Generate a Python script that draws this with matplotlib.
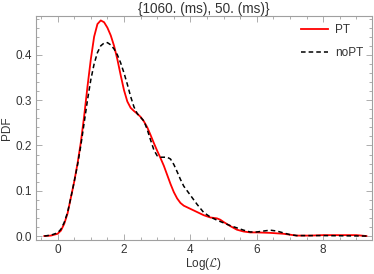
import numpy as np
import matplotlib.pyplot as plt
from matplotlib.ticker import MultipleLocator

# PT curve
pt_x = [-0.4, -0.2, 0.0, 0.1, 0.2, 0.3, 0.4, 0.5, 0.6, 0.7, 0.8, 0.9, 1.0, 1.1, 1.2, 1.3,
        1.4, 1.5, 1.6, 1.7, 1.8, 1.9, 2.0, 2.1, 2.2, 2.3, 2.4, 2.5, 2.6, 2.7, 2.8, 2.9,
        3.0, 3.1, 3.2, 3.3, 3.4, 3.5, 3.6, 3.7, 3.8, 4.0, 4.2, 4.4, 4.6, 4.8, 4.9, 5.0,
        5.2, 5.4, 5.6, 5.8, 6.0, 6.4, 6.8, 7.2, 7.6, 8.0, 8.5, 9.0, 9.3]
pt_y = [0.0, 0.001, 0.005, 0.012, 0.027, 0.05, 0.085, 0.12, 0.16, 0.207, 0.265, 0.33,
        0.39, 0.44, 0.468, 0.476, 0.472, 0.46, 0.443, 0.42, 0.39, 0.355, 0.322, 0.297,
        0.283, 0.276, 0.27, 0.263, 0.253, 0.24, 0.223, 0.205, 0.188, 0.172, 0.155, 0.135,
        0.115, 0.097, 0.083, 0.073, 0.067, 0.06, 0.053, 0.046, 0.041, 0.039, 0.036, 0.031,
        0.022, 0.014, 0.01, 0.008, 0.008, 0.007, 0.005, 0.001, 0.001, 0.002, 0.002, 0.002,
        0.0]

# noPT curve
nopt_x = [-0.4, -0.2, 0.0, 0.1, 0.2, 0.3, 0.4, 0.5, 0.6, 0.7, 0.8, 0.9, 1.0, 1.1, 1.2,
          1.3, 1.4, 1.5, 1.6, 1.7, 1.8, 1.9, 2.0, 2.1, 2.2, 2.3, 2.4, 2.5, 2.6, 2.7, 2.8,
          2.9, 3.0, 3.1, 3.2, 3.3, 3.4, 3.5, 3.6, 3.7, 3.8, 3.9, 4.0, 4.2, 4.4, 4.6, 4.8,
          5.0, 5.2, 5.4, 5.6, 5.8, 6.0, 6.2, 6.4, 6.6, 6.8, 7.0, 7.2, 8.0, 9.3]
nopt_y = [0.0, 0.002, 0.007, 0.015, 0.03, 0.052, 0.085, 0.12, 0.157, 0.2, 0.25, 0.3,
          0.345, 0.38, 0.405, 0.42, 0.426, 0.427, 0.422, 0.413, 0.4, 0.382, 0.36, 0.335,
          0.308, 0.285, 0.27, 0.262, 0.254, 0.235, 0.212, 0.19, 0.177, 0.174, 0.174, 0.174,
          0.17, 0.158, 0.142, 0.125, 0.11, 0.1, 0.09, 0.07, 0.052, 0.042, 0.035, 0.029,
          0.023, 0.018, 0.013, 0.009, 0.009, 0.011, 0.013, 0.011, 0.007, 0.003, 0.001,
          0.001, 0.0]

plt.rcParams['font.family'] = ['Liberation Sans', 'DejaVu Sans']
plt.rcParams['mathtext.fontset'] = 'cm'

fig = plt.figure(figsize=(3.74, 2.74), dpi=100)
ax = fig.add_axes([0.0963, 0.124, 0.8976, 0.818])

ax.plot(pt_x, pt_y, color='#ff0000', lw=1.3, label='PT')
ax.plot(nopt_x, nopt_y, color='black', lw=1.1, ls=(0, (3, 2)), label='noPT')

ax.set_xlim(-0.65, 9.46)
ax.set_ylim(-0.0088, 0.486)
ax.xaxis.set_major_locator(MultipleLocator(2))
ax.xaxis.set_minor_locator(MultipleLocator(0.5))
ax.yaxis.set_major_locator(MultipleLocator(0.1))
ax.yaxis.set_minor_locator(MultipleLocator(0.02))
ax.yaxis.set_major_formatter(plt.FuncFormatter(lambda v, p: '%.1f' % v))

for s in ax.spines.values():
    s.set_color('#a0a0a0')
    s.set_linewidth(0.8)
ax.tick_params(which='both', direction='in', top=True, right=True, color='#a0a0a0',
               labelsize=8.5, labelcolor='#333333', width=0.6)
ax.tick_params(which='major', length=4, pad=3)
ax.tick_params(which='minor', length=2)

ax.set_title('{1060. (ms), 50. (ms)}', fontsize=9.8, color='#333333', pad=2)
ax.set_xlabel(r'Log($\mathcal{L}$)', fontsize=8.5, color='#333333', labelpad=0)
ax.set_ylabel('PDF', fontsize=8.5, color='#333333', labelpad=2)

leg = ax.legend(loc='upper right', frameon=False, fontsize=8.5, handlelength=2.3,
                handletextpad=0.6, labelspacing=0.9, borderaxespad=0.3)
for t in leg.get_texts():
    t.set_color('#333333')

fig.savefig('out.png', dpi=100)
